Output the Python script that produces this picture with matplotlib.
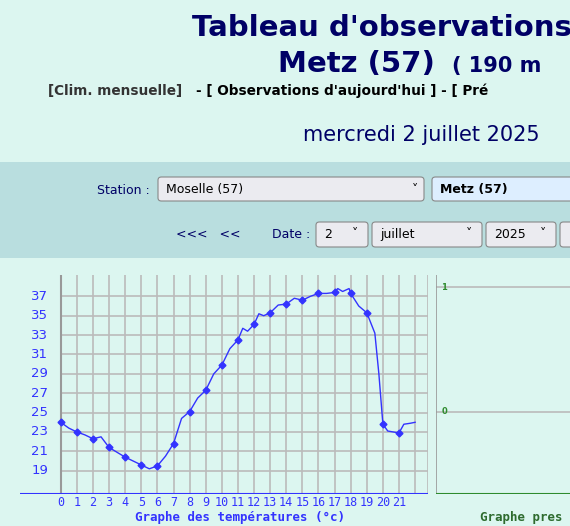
import matplotlib.pyplot as plt
from matplotlib.patches import FancyBboxPatch, Rectangle

hours = [0, 0.5, 1, 1.5, 2, 2.5, 3, 3.5, 4, 4.5, 5, 5.5, 6, 6.5, 7, 7.5, 8, 8.5, 9, 9.5,
         10, 10.5, 11, 11.3, 11.6, 12, 12.3, 12.6, 13, 13.5, 14, 14.5, 15, 15.5, 16, 16.5,
         17, 17.2, 17.5, 17.9, 18, 18.5, 19, 19.5, 19.75, 20, 20.3, 21, 21.3, 21.7, 22]
temps = [24.0, 23.4, 23.0, 22.7, 22.3, 22.5, 21.4, 20.9, 20.4, 20.0, 19.6, 19.2, 19.5, 20.5,
         21.8, 24.4, 25.1, 26.5, 27.3, 29.0, 29.9, 31.6, 32.5, 33.7, 33.4, 34.1, 35.2, 35.0,
         35.3, 36.1, 36.2, 36.8, 36.6, 37.0, 37.3, 37.3, 37.4, 37.8, 37.5, 37.8, 37.3, 36.0,
         35.3, 33.2, 29.0, 23.8, 23.1, 22.9, 23.8, 23.9, 24.0]
y_ticks = [19, 21, 23, 25, 27, 29, 31, 33, 35, 37]
x_ticks = list(range(22))

W, H = 570, 526
navy = "#000066"
blue = "#3333ff"


def fx(px):
    return px / W


def fy(py):
    return 1 - py / H


fig = plt.figure(figsize=(5.7, 5.26), dpi=100)
fig.patch.set_facecolor("#dcf6f0")

# header (the page itself is cut at the right edge)
fig.text(fx(192), fy(28), "Tableau d'observations", color=navy, fontsize=21, fontweight="bold",
         va="center", ha="left")
fig.text(fx(278), fy(64), "Metz (57)", color=navy, fontsize=21, fontweight="bold", va="center")
fig.text(fx(452), fy(66), "( 190 m", color=navy, fontsize=15, fontweight="bold", va="center")
fig.text(fx(48), fy(91), "[Clim. mensuelle]", color="#333333", fontsize=9.8, fontweight="bold", va="center")
fig.text(fx(196), fy(91), "- [ Observations d'aujourd'hui ] - [ Pré", color="#000000", fontsize=9.8,
         fontweight="bold", va="center")
fig.text(fx(303), fy(135), "mercredi 2 juillet 2025", color=navy, fontsize=15, va="center")

# form band
fig.patches.append(Rectangle((0, fy(258)), 1, (258 - 162) / H, transform=fig.transFigure,
                             facecolor="#b9dedf", edgecolor="none"))


def box(x0, y0, x1, y1, text, bold=False, face="#ebebf0"):
    fig.patches.append(FancyBboxPatch((fx(x0), fy(y1)), (x1 - x0) / W, (y1 - y0) / H,
                                      boxstyle="round,pad=0,rounding_size=0.006",
                                      transform=fig.transFigure, facecolor=face, edgecolor="#888888", lw=0.8))
    fig.text(fx(x0 + 8), fy((y0 + y1) / 2), text, fontsize=9, fontweight="bold" if bold else "normal",
             va="center", color="black")


fig.text(fx(150), fy(190), "Station :", color=navy, fontsize=9, ha="right", va="center")
box(158, 177, 424, 201, "Moselle (57)")
fig.text(fx(412), fy(189), "\u02c5", fontsize=9, va="center")
box(432, 177, 580, 201, "Metz (57)", bold=True, face="#ddeeff")
fig.text(fx(176), fy(235), "<<<   <<", color=navy, fontsize=9, va="center")
fig.text(fx(310), fy(235), "Date :", color=navy, fontsize=9, ha="right", va="center")
for x0, x1, t in [(316, 368, "2"), (372, 482, "juillet"), (486, 556, "2025"), (560, 580, "")]:
    box(x0, 222, x1, 247, t)
    if x1 < 570:
        fig.text(fx(x1 - 16), fy(233), "\u02c5", fontsize=9, va="center")

# temperature chart
ax = fig.add_axes([fx(20), fy(494), (428 - 20) / W, (494 - 275) / H])
ax.set_xlim(-2.53, 22.8)
ax.set_ylim(16.6, 39.2)
ax.axis("off")
ax.vlines(x_ticks[1:] + [22], 16.6, 39.2, color="#bbbbbb", lw=1.2)
ax.vlines([22.8], 16.6, 39.2, color="#bbbbbb", lw=1.2)
ax.hlines(y_ticks, 0, 22.8, color="#bbbbbb", lw=1.2)
ax.vlines([0], 16.6, 39.2, color="#999999", lw=1.5)
ax.hlines([16.6], -2.53, 22.8, color=blue, lw=1.5)
ax.plot(hours, temps, color=blue, lw=1)
hourly = [t for h, t in zip(hours, temps) if h == int(h) and h <= 21]
ax.plot(x_ticks, hourly, ls="none", marker="D", ms=3.5, color=blue)
for v in y_ticks:
    ax.text(-1.3, v, str(v), color=blue, fontsize=9.5, ha="center", va="center")
for h in x_ticks:
    ax.text(h, 15.7, str(h), color=blue, fontsize=8.5, family="DejaVu Sans Mono", ha="center", va="center")
fig.text(fx(240), fy(517), "Graphe des températures (°c)", color=blue, fontsize=9,
         family="DejaVu Sans Mono", fontweight="bold", ha="center", va="center")

# pressure chart (partially visible)
ax2 = fig.add_axes([fx(436), fy(494), (570 - 436) / W, (494 - 275) / H])
ax2.set_xlim(0, 1)
ax2.set_ylim(-0.66, 1.1)
ax2.axis("off")
ax2.hlines([0, 1], 0, 1, color="#bbbbbb", lw=1.2)
ax2.vlines([0], -0.66, 1.1, color="#999999", lw=1.2)
ax2.hlines([-0.66], 0, 1, color="#2e8b2e", lw=1.5)
ax2.text(0.04, 1.0, "1", color="#2e8b2e", fontsize=6, fontweight="bold", va="center")
ax2.text(0.04, 0.0, "0", color="#2e8b2e", fontsize=6, fontweight="bold", va="center")
fig.text(fx(480), fy(517), "Graphe pres", color="#2e6b2e", fontsize=9, family="DejaVu Sans Mono",
         fontweight="bold", va="center")

fig.savefig("out.png", dpi=100, facecolor=fig.get_facecolor())
